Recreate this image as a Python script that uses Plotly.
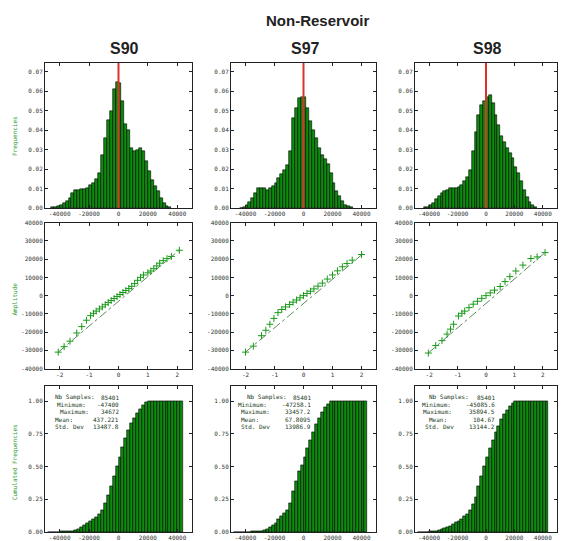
import numpy as np
import plotly.graph_objects as go

W, H = 566, 541

samples = ["S90", "S97", "S98"]

# ---------------- histogram data (bin centers, frequencies) ----------------
bin_width = 2000
hist_centers_90 = list(range(-45000, 37000, 2000))
hist_freq_90 = [0.0002, 0.0004, 0.0008, 0.0014, 0.0025, 0.0037, 0.0050, 0.0076, 0.0093, 0.0093,
                0.0097, 0.0098, 0.0100, 0.0115, 0.0127, 0.0150, 0.0180, 0.0270, 0.0360, 0.0450,
                0.0500, 0.0610, 0.0645, 0.0640, 0.0550, 0.0430, 0.0400, 0.0310, 0.0290, 0.0300,
                0.0310, 0.0290, 0.0240, 0.0190, 0.0145, 0.0110, 0.0085, 0.0050, 0.0025, 0.0010,
                0.0003]

hist_centers_97 = list(range(-43000, 35000, 2000))
hist_freq_97 = [0.0001, 0.0003, 0.0017, 0.0030, 0.0050, 0.0076, 0.0100, 0.0100, 0.0100, 0.0093,
                0.0100, 0.0114, 0.0127, 0.0153, 0.0173, 0.0195, 0.0220, 0.0290, 0.0460, 0.0513,
                0.0564, 0.0570, 0.0570, 0.0513, 0.0445, 0.0400, 0.0360, 0.0310, 0.0270, 0.0250,
                0.0224, 0.0180, 0.0127, 0.0085, 0.0060, 0.0034, 0.0017, 0.0008, 0.0003]

hist_centers_98 = list(range(-43000, 37000, 2000))
hist_freq_98 = [0.0002, 0.0005, 0.0014, 0.0026, 0.0043, 0.0060, 0.0077, 0.0089, 0.0094, 0.0100,
                0.0102, 0.0100, 0.0107, 0.0116, 0.0136, 0.0160, 0.0196, 0.0290, 0.0390, 0.0477,
                0.0530, 0.0550, 0.0570, 0.0580, 0.0540, 0.0480, 0.0426, 0.0370, 0.0340, 0.0307,
                0.0280, 0.0255, 0.0210, 0.0180, 0.0136, 0.0094, 0.0055, 0.0030, 0.0017, 0.0005]

# ---------------- cumulative frequencies (read from the bottom row) ----------------
cum_centers = list(range(-47000, 45000, 2000))
cum_freq_90 = [0.000, 0.000, 0.001, 0.002, 0.003, 0.004, 0.006, 0.008, 0.010, 0.014,
               0.022, 0.035, 0.050, 0.065, 0.080, 0.095, 0.110, 0.135, 0.165, 0.220,
               0.280, 0.350, 0.430, 0.500, 0.570, 0.650, 0.720, 0.780, 0.830, 0.870,
               0.910, 0.940, 0.970, 0.990, 1.000, 1.000, 1.000, 1.000, 1.000, 1.000,
               1.000, 1.000, 1.000, 1.000, 1.000, 1.000]
cum_freq_97 = [0.000, 0.000, 0.000, 0.001, 0.001, 0.002, 0.003, 0.004, 0.006, 0.008,
               0.012, 0.025, 0.040, 0.055, 0.070, 0.095, 0.120, 0.145, 0.170, 0.220,
               0.310, 0.390, 0.465, 0.510, 0.570, 0.640, 0.705, 0.760, 0.825, 0.870,
               0.920, 0.955, 0.980, 1.000, 1.000, 1.000, 1.000, 1.000, 1.000, 1.000,
               1.000, 1.000, 1.000, 1.000, 1.000, 1.000]
cum_freq_98 = [0.000, 0.000, 0.001, 0.002, 0.003, 0.005, 0.008, 0.012, 0.018, 0.026,
               0.036, 0.048, 0.060, 0.072, 0.085, 0.100, 0.118, 0.140, 0.170, 0.210,
               0.270, 0.350, 0.430, 0.500, 0.570, 0.640, 0.700, 0.760, 0.810, 0.860,
               0.900, 0.935, 0.965, 0.985, 1.000, 1.000, 1.000, 1.000, 1.000, 1.000,
               1.000, 1.000, 1.000, 1.000, 1.000, 1.000]

# ---------------- QQ-plot data ----------------
qq_x_90 = [-2.05, -1.85, -1.65, -1.42, -1.25, -1.09, -0.95, -0.85, -0.76, -0.65, -0.55, -0.45,
           -0.35, -0.25, -0.15, -0.05, 0.05, 0.15, 0.25, 0.35, 0.45, 0.55, 0.65, 0.75, 0.85,
           1.0, 1.1, 1.2, 1.3, 1.4, 1.52, 1.65, 1.8, 2.07]
qq_y_90 = [-31000, -28000, -25000, -20500, -17000, -13500, -11000, -9700, -8500, -7300, -6200,
           -5000, -3800, -2700, -1600, -500, 600, 1700, 2800, 3900, 5100, 6600, 8400, 10000,
           11300, 12500, 13500, 14800, 16300, 17800, 19200, 20300, 21500, 24900]
ref_x_90 = [-2.05, 2.07]
ref_y_90 = [-31000, 25000]

qq_x_97 = [-2.0, -1.73, -1.45, -1.3, -1.16, -1.02, -0.88, -0.75, -0.62, -0.48, -0.36, -0.24,
           -0.12, 0.0, 0.12, 0.24, 0.36, 0.5, 0.65, 0.82, 1.0, 1.17, 1.34, 1.5, 1.68, 2.0]
qq_y_97 = [-31000, -27700, -22000, -19000, -15700, -12500, -9350, -7600, -6200, -4860, -3600,
           -2400, -1200, 0, 1200, 2400, 3700, 5200, 6860, 9100, 11350, 13600, 15840, 17600,
           19460, 22540]
ref_x_97 = [-2.0, 2.06]
ref_y_97 = [-31000, 23100]

qq_x_98 = [-2.03, -1.77, -1.55, -1.37, -1.25, -1.14, -0.97, -0.85, -0.75, -0.6, -0.45, -0.3,
           -0.15, 0.0, 0.15, 0.3, 0.5, 0.67, 0.84, 1.05, 1.3, 1.58, 1.8, 2.08]
qq_y_98 = [-31500, -27400, -24700, -21100, -18400, -15700, -11200, -9700, -8500, -6600, -4700,
           -3100, -1500, 0, 1500, 3000, 5000, 7700, 10400, 13500, 16750, 20350, 21240, 23600]
ref_x_98 = [-2.03, 2.08]
ref_y_98 = [-31500, 23600]

# ---------------- statistics ----------------
stat_labels = ["Nb Samples:", "Minimum:", "Maximum:", "Mean:", "Std. Dev"]
stats_90 = ["85401", "-47400", "34672", "437.221", "13487.8"]
stats_97 = ["85401", "-47258.1", "33457.2", "67.8095", "13986.9"]
stats_98 = ["85401", "-45085.6", "35894.5", "104.67", "13144.2"]

# ---------------- tick labels ----------------
hist_xticks = [-40000, -20000, 0, 20000, 40000]
hist_yticks = [0.00, 0.01, 0.02, 0.03, 0.04, 0.05, 0.06, 0.07]
qq_xticks = [-2, -1, 0, 1, 2]
qq_yticks = [-40000, -30000, -20000, -10000, 0, 10000, 20000, 30000, 40000]
cum_yticks = [0.00, 0.25, 0.50, 0.75, 1.00]

hists = [(hist_centers_90, hist_freq_90), (hist_centers_97, hist_freq_97), (hist_centers_98, hist_freq_98)]
cums = [cum_freq_90, cum_freq_97, cum_freq_98]
qqs = [(qq_x_90, qq_y_90, ref_x_90, ref_y_90), (qq_x_97, qq_y_97, ref_x_97, ref_y_97),
       (qq_x_98, qq_y_98, ref_x_98, ref_y_98)]
stats = [stats_90, stats_97, stats_98]

# ---------------- layout geometry (pixels) ----------------
col_px = [(45, 192), (231, 376), (415, 557)]
row_px = [(60, 207), (222, 370), (388, 536)]
label_offsets = [[8, 10, 13, 8, 8], [14, 5, 8, 8, 8], [12, 5, 6, 12, 8]]
value_right = [76, 82, 82]
stat_rows = [11, 18.5, 26, 33.5, 41]

BAR = "#0c8c0c"
GREEN_TXT = "#2a9a2a"
TICKFONT = dict(family="DejaVu Sans Mono", size=6, color="#333333")
STATFONT = dict(family="DejaVu Sans Mono", size=6, color="#1a3a1a")

fig = go.Figure()
layout = {}
annotations = []
shapes = []


def axis_style(**kw):
    d = dict(showline=True, linecolor="#222222", linewidth=1, mirror="allticks",
             ticks="inside", ticklen=3, tickcolor="#222222", tickwidth=1,
             showgrid=False, zeroline=False, tickfont=TICKFONT)
    d.update(kw)
    return d


for r in range(3):
    for c in range(3):
        i = r * 3 + c + 1
        xa = "x" if i == 1 else f"x{i}"
        ya = "y" if i == 1 else f"y{i}"
        xdom = [col_px[c][0] / W, col_px[c][1] / W]
        ydom = [1 - row_px[r][1] / H, 1 - row_px[r][0] / H]
        if r == 0:
            centers, freq = hists[c]
            fig.add_trace(go.Bar(x=centers, y=freq, width=bin_width,
                                 marker=dict(color=BAR, line=dict(color="black", width=0.6)),
                                 xaxis=xa, yaxis=ya, showlegend=False))
            layout[f"xaxis{i}"] = axis_style(domain=xdom, anchor=ya, range=[-50000, 50000],
                                             tickvals=hist_xticks, ticktext=[str(v) for v in hist_xticks])
            layout[f"yaxis{i}"] = axis_style(domain=ydom, anchor=xa, range=[0, 0.0745],
                                             tickvals=hist_yticks, ticktext=[f"{v:.2f}" for v in hist_yticks])
            shapes.append(dict(type="line", xref=xa, yref=f"{ya} domain", x0=0, x1=0, y0=0, y1=1,
                               line=dict(color="#e0302a", width=2)))
        elif r == 1:
            qx, qy, rx, ry = qqs[c]
            fig.add_trace(go.Scatter(x=rx, y=ry, mode="lines",
                                     line=dict(color="#5a8a5a", width=1, dash="dashdot"),
                                     xaxis=xa, yaxis=ya, showlegend=False))
            fig.add_trace(go.Scatter(x=qx, y=qy, mode="markers",
                                     marker=dict(symbol="cross-thin", size=5, line=dict(width=1, color="#1a9a1a")),
                                     xaxis=xa, yaxis=ya, showlegend=False))
            layout[f"xaxis{i}"] = axis_style(domain=xdom, anchor=ya, range=[-2.5, 2.5],
                                             tickvals=qq_xticks, ticktext=[str(v) for v in qq_xticks])
            layout[f"yaxis{i}"] = axis_style(domain=ydom, anchor=xa, range=[-40000, 40000],
                                             tickvals=qq_yticks, ticktext=[str(v) for v in qq_yticks])
        else:
            fig.add_trace(go.Bar(x=cum_centers, y=cums[c], width=bin_width,
                                 marker=dict(color=BAR, line=dict(color="black", width=0.6)),
                                 xaxis=xa, yaxis=ya, showlegend=False))
            layout[f"xaxis{i}"] = axis_style(domain=xdom, anchor=ya, range=[-50000, 50000],
                                             tickvals=hist_xticks, ticktext=[str(v) for v in hist_xticks])
            layout[f"yaxis{i}"] = axis_style(domain=ydom, anchor=xa, range=[0, 1.115],
                                             tickvals=cum_yticks, ticktext=[f"{v:.2f}" for v in cum_yticks])
            pw = col_px[c][1] - col_px[c][0]
            ph = row_px[r][1] - row_px[r][0]
            for k in range(5):
                yy = 1 - stat_rows[k] / ph
                annotations.append(dict(xref=f"{xa} domain", yref=f"{ya} domain",
                                        x=label_offsets[c][k] / pw, y=yy, xanchor="left", yanchor="middle",
                                        text=stat_labels[k], showarrow=False, font=STATFONT))
                annotations.append(dict(xref=f"{xa} domain", yref=f"{ya} domain",
                                        x=value_right[c] / pw, y=yy, xanchor="right", yanchor="middle",
                                        text=stats[c][k], showarrow=False, font=STATFONT))

# titles
annotations.append(dict(xref="paper", yref="paper", x=318 / W, y=1 - 17 / H, xanchor="center", yanchor="middle",
                        text="<b>Non-Reservoir</b>", showarrow=False,
                        font=dict(family="Liberation Sans", size=15, color="#222222")))
col_title_x = [125, 305, 487]
for c in range(3):
    annotations.append(dict(xref="paper", yref="paper", x=col_title_x[c] / W, y=1 - 45 / H,
                            xanchor="center", yanchor="middle", text=f"<b>{samples[c]}</b>", showarrow=False,
                            font=dict(family="Liberation Sans", size=16, color="#222222")))

# y-axis titles (first column)
ytitles = ["Frequencies", "Amplitude", "Cumulated Frequencies"]
ytitle_y = [134, 300, 465]
for r in range(3):
    annotations.append(dict(xref="paper", yref="paper", x=15 / W, y=1 - ytitle_y[r] / H,
                            xanchor="center", yanchor="middle", text=ytitles[r], textangle=-90,
                            showarrow=False, font=dict(family="DejaVu Sans Mono", size=6, color=GREEN_TXT)))

fig.update_layout(**layout)
fig.update_layout(width=W, height=H, margin=dict(l=0, r=0, t=0, b=0),
                  paper_bgcolor="white", plot_bgcolor="white", bargap=0,
                  annotations=annotations, shapes=shapes,
                  font=dict(family="DejaVu Sans Mono", size=6))

fig.write_html("out.html")
